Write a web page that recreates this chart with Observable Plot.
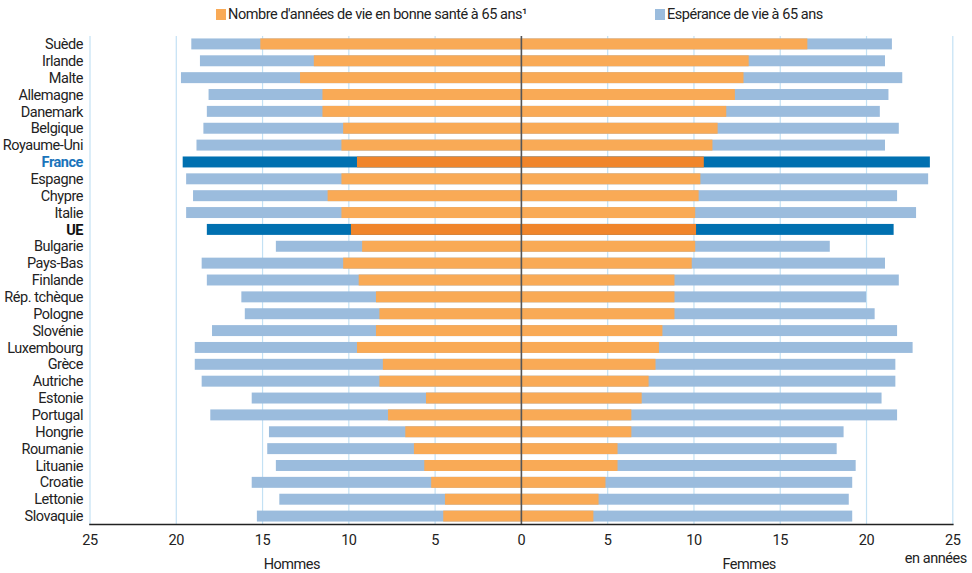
<!DOCTYPE html>
<html>
<head>
<meta charset="utf-8">
<script src="https://cdn.jsdelivr.net/npm/d3@7"></script>
<script src="https://cdn.jsdelivr.net/npm/@observablehq/plot@0.6"></script>
<style>
  html, body { margin: 0; padding: 0; background: #fff; }
  body { width: 972px; height: 573px; overflow: hidden;
         font-family: Roboto, "Liberation Sans", sans-serif; color: #222; }
  #legend { position: relative; height: 30px; font-size: 14.5px; letter-spacing: -0.45px; }
  .item { position: absolute; top: 6px; display: flex; align-items: center; white-space: nowrap; }
  .sw { width: 10px; height: 11px; margin-right: 2px; display: inline-block; }
  svg { display: block; }
  svg text { letter-spacing: -0.45px; }
</style>
</head>
<body>
<div id="legend"></div>
<div id="chart"></div>
<script>
const countries = ["Suède","Irlande","Malte","Allemagne","Danemark","Belgique","Royaume-Uni","France","Espagne","Chypre","Italie","UE","Bulgarie","Pays-Bas","Finlande","Rép. tchèque","Pologne","Slovénie","Luxembourg","Grèce","Autriche","Estonie","Portugal","Hongrie","Roumanie","Lituanie","Croatie","Lettonie","Slovaquie"];
const menLife      = [19.1,18.6,19.7,18.1,18.2,18.4,18.8,19.6,19.4,19.0,19.4,18.2,14.2,18.5,18.2,16.2,16.0,17.9,18.9,18.9,18.5,15.6,18.0,14.6,14.7,14.2,15.6,14.0,15.3];
const menHealthy   = [15.1,12.0,12.8,11.5,11.5,10.3,10.4,9.5,10.4,11.2,10.4,9.85,9.2,10.3,9.4,8.4,8.2,8.4,9.5,8.0,8.2,5.5,7.7,6.7,6.2,5.6,5.2,4.4,4.5];
const womenLife    = [21.5,21.1,22.1,21.3,20.8,21.9,21.1,23.7,23.6,21.8,22.9,21.6,17.9,21.1,21.9,20.0,20.5,21.8,22.7,21.7,21.7,20.9,21.8,18.7,18.3,19.4,19.2,19.0,19.2];
const womenHealthy = [16.6,13.2,12.9,12.4,11.9,11.4,11.1,10.6,10.4,10.3,10.1,10.15,10.1,9.9,8.9,8.9,8.9,8.2,8.0,7.8,7.4,7.0,6.4,6.4,5.6,5.6,4.9,4.5,4.2];
const highlighted = ["France","UE"];
const gridTicks = [-25,-20,-15,-10,-5,5,10,15,20,25];
const axisTicks = [-25,-20,-15,-10,-5,0,5,10,15,20,25];
const legendLabels = ["Nombre d'années de vie en bonne santé à 65 ans¹", "Espérance de vie à 65 ans"];
const sideLabels = ["Hommes", "Femmes"];
const unitLabel = "en années";

const colors = {
  lifeLight: "#9bbcdd", lifeDark: "#0070b0",
  healthLight: "#f9aa56", healthDark: "#f0852b",
  grid: "#c3e1f4", zero: "#555555"
};

// legend
const legend = document.getElementById("legend");
[[legendLabels[0], colors.healthLight, 216], [legendLabels[1], colors.lifeLight, 655]].forEach(([t, c, left]) => {
  const d = document.createElement("div");
  d.className = "item";
  d.style.left = left + "px";
  d.innerHTML = `<span class="sw" style="background:${c}"></span><span>${t}</span>`;
  legend.appendChild(d);
});

const rows = countries.map((c, i) => ({
  country: c, menLife: menLife[i], menHealthy: menHealthy[i],
  womenLife: womenLife[i], womenHealthy: womenHealthy[i],
  hl: highlighted.includes(c)
}));

const lifeFill = d => d.hl ? colors.lifeDark : colors.lifeLight;
const healthFill = d => d.hl ? colors.healthDark : colors.healthLight;

const chart = Plot.plot({
  width: 972,
  height: 543,
  marginTop: 6,
  marginBottom: 49,
  marginLeft: 89.5,
  marginRight: 19.7,
  style: { fontFamily: 'Roboto, "Liberation Sans", sans-serif', fontSize: "14.5px", color: "#222", background: "#fff" },
  x: { domain: [-25, 25], axis: null },
  y: { domain: countries, paddingInner: 0.35, paddingOuter: 0.145, round: false, axis: null },
  marks: [
    Plot.ruleX(gridTicks, { stroke: colors.grid, strokeWidth: 1.2 }),
    Plot.barX(rows, { y: "country", x1: 0, x2: d => -d.menLife, fill: lifeFill }),
    Plot.barX(rows, { y: "country", x1: 0, x2: d => -d.menHealthy, fill: healthFill }),
    Plot.barX(rows, { y: "country", x1: 0, x2: d => d.womenLife, fill: lifeFill }),
    Plot.barX(rows, { y: "country", x1: 0, x2: d => d.womenHealthy, fill: healthFill }),
    Plot.ruleX([0], { stroke: colors.zero, strokeWidth: 1.6 }),
    Plot.frame({ anchor: "bottom", stroke: "#222", strokeWidth: 1.6 }),
    Plot.axisX({ ticks: axisTicks, tickSize: 0, tickPadding: 10, tickFormat: d => Math.abs(d), label: null, fill: "#222", fontSize: 14.5 }),
    Plot.text(countries.filter(c => !highlighted.includes(c)), { y: d => d, frameAnchor: "left", textAnchor: "end", dx: -7, fill: "#222" }),
    Plot.text(["France"], { y: d => d, frameAnchor: "left", textAnchor: "end", dx: -7, fill: "#1a74bb", fontWeight: "bold" }),
    Plot.text(["UE"], { y: d => d, frameAnchor: "left", textAnchor: "end", dx: -7, fill: "#111", fontWeight: "bold" }),
    Plot.text([sideLabels[0]], { x: -13.3, frameAnchor: "bottom", dy: 44, text: d => d, fill: "#222" }),
    Plot.text([sideLabels[1]], { x: 13.2, frameAnchor: "bottom", dy: 44, text: d => d, fill: "#222" }),
    Plot.text([unitLabel], { x: 25, frameAnchor: "bottom", dy: 38, dx: 14, textAnchor: "end", text: d => d, fill: "#222" })
  ]
});
document.getElementById("chart").appendChild(chart);
</script>
</body>
</html>
